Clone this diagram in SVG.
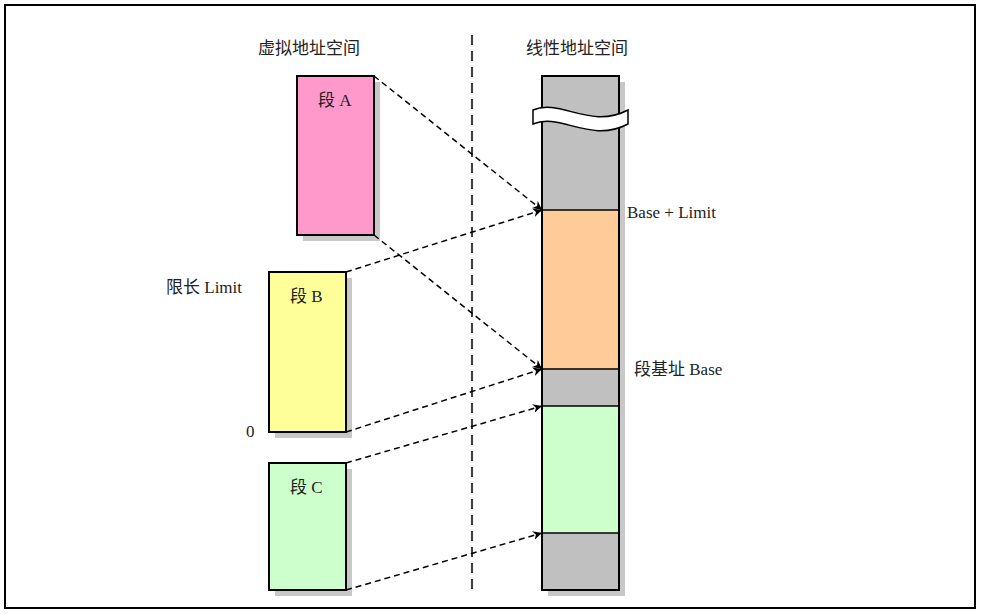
<svg xmlns="http://www.w3.org/2000/svg" width="981" height="614" viewBox="0 0 981 614">
<style>
.t{font-family:"Liberation Serif","Noto Sans CJK SC",serif;font-size:17px;fill:#222}
.b{stroke:#000;stroke-width:2}
.sh{fill:#c8c8c8}
.c{stroke:#000;stroke-width:1.5;stroke-dasharray:6 4;fill:none;marker-end:url(#a)}
</style>
<defs><marker id="a" viewBox="0 0 10 10" refX="10" refY="5" markerWidth="9" markerHeight="9" orient="auto" markerUnits="userSpaceOnUse"><path d="M0,0L10,5L0,10L3,5z" fill="#000"/></marker></defs>
<rect x="0" y="0" width="981" height="614" fill="#fff"/>
<rect x="5" y="5" width="970" height="603" fill="none" stroke="#000" stroke-width="2"/>
<line x1="472" y1="35" x2="472" y2="592" stroke="#000" stroke-width="1.5" stroke-dasharray="10 6"/>
<text class="t" x="258" y="54">虚拟地址空间</text>
<text class="t" x="526" y="54">线性地址空间</text>
<g id="segA"><rect class="sh" x="303" y="82" width="77" height="159"/><rect class="b" x="297" y="76" width="77" height="159" fill="#ff99cc"/><text class="t" x="318" y="106">段 A</text></g>
<g id="segB"><rect class="sh" x="275" y="278" width="77" height="160"/><rect class="b" x="269" y="272" width="77" height="160" fill="#ffff99"/><text class="t" x="290" y="302">段 B</text></g>
<g id="segC"><rect class="sh" x="275" y="469" width="77" height="127"/><rect class="b" x="269" y="463" width="77" height="127" fill="#ccffcc"/><text class="t" x="290" y="493">段 C</text></g>
<g id="linear">
<rect class="sh" x="548" y="82" width="77" height="514"/>
<rect x="542" y="76" width="77" height="514" fill="#c0c0c0"/>
<rect x="542" y="210" width="77" height="159" fill="#ffcc99"/>
<rect x="542" y="406" width="77" height="127" fill="#ccffcc"/>
<g stroke="#000" stroke-width="1.5"><line x1="542" y1="210" x2="619" y2="210"/><line x1="542" y1="369" x2="619" y2="369"/><line x1="542" y1="406" x2="619" y2="406"/><line x1="542" y1="533" x2="619" y2="533"/></g>
<rect class="b" x="542" y="76" width="77" height="514" fill="none"/>
<path d="M533,110 C560,98 590,130 628,110 L628,124 C590,144 560,112 533,124 Z" fill="#fff" stroke="#000" stroke-width="1.5"/>
</g>
<text class="t" x="627" y="218">Base + Limit</text>
<text class="t" x="634" y="375">段基址 Base</text>
<text class="t" x="166" y="293">限长 Limit</text>
<text class="t" x="246" y="437">0</text>
<g id="connectors">
<path class="c" d="M374,76L542,210"/>
<path class="c" d="M374,235L542,369"/>
<path class="c" d="M346,272L542,210"/>
<path class="c" d="M346,432L542,369"/>
<path class="c" d="M346,463L542,406"/>
<path class="c" d="M346,590L542,533"/>
</g>
</svg>
